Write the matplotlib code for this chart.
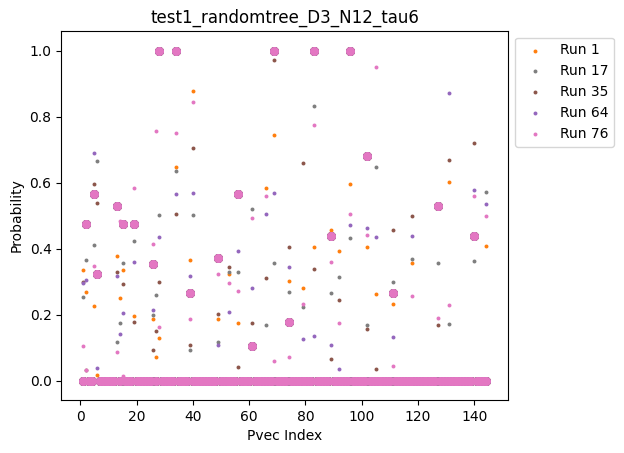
import numpy as np
import matplotlib
matplotlib.use('Agg')
from matplotlib import pyplot as plt

# pvec indices that hold something other than zero
cols = [1, 2, 5, 6, 13, 14, 15, 19, 26, 27, 28, 34, 39, 40, 49, 53, 56, 61, 66, 69,
        74, 79, 83, 89, 92, 96, 102, 105, 111, 118, 127, 131, 140, 144]

# true pvec (big markers), zero everywhere else
true_idx = [2, 5, 6, 13, 15, 19, 26, 28, 34, 39, 49, 56, 61, 69, 74, 83, 89, 96,
            102, 111, 127, 140]
true_val = [0.474, 0.566, 0.323, 0.530, 0.474, 0.476, 0.353, 1.0, 1.0, 0.265, 0.372,
            0.566, 0.105, 1.0, 0.177, 1.0, 0.4385, 1.0, 0.681, 0.265, 0.530, 0.4385]

# estimated values per run, aligned with cols
run_names = ['Run 1', 'Run 17', 'Run 35', 'Run 64', 'Run 76']
run_colors = ['C1', 'C7', 'C5', 'C4', 'C6']
run1 = [0.335, 0.268, 0.226, 0.017, 0.378, 0.250, 0.335, 0.196, 0.186, 0.071, 0.129,
        0.648, 0.366, 0.876, 0.186, 0.323, 0.175, 0.0, 0.584, 0.745, 0.302, 0.281,
        0.405, 0.457, 0.393, 0.596, 0.405, 0.262, 0.232, 0.357, 0.0, 0.6025, 0.0, 0.408]
run17 = [0.254, 0.366, 0.411, 0.666, 0.117, 0.174, 0.356, 0.423, 0.199, 0.259, 0.502,
         0.636, 0.092, 0.502, 0.117, 0.329, 0.329, 0.520, 0.168, 0.357, 0.268, 0.223,
         0.833, 0.265, 0.314, 0.432, 0.168, 0.648, 0.299, 0.369, 0.357, 0.171, 0.363, 0.572]
run35 = [0.300, 0.033, 0.596, 0.539, 0.329, 0.0, 0.293, 0.177, 0.092, 0.150, 0.299,
         0.505, 0.107, 0.706, 0.202, 0.344, 0.041, 0.175, 0.311, 0.970, 0.405, 0.660,
         0.338, 0.065, 0.244, 0.0, 0.156, 0.035, 0.457, 0.499, 0.168, 0.669, 0.721, 0.0]
run64 = [0.295, 0.305, 0.690, 0.038, 0.317, 0.141, 0.205, 0.360, 0.214, 0.0, 0.435,
         0.566, 0.317, 0.569, 0.110, 0.208, 0.393, 0.281, 0.505, 0.569, 0.344, 0.126,
         0.135, 0.1075, 0.035, 0.471, 0.463, 0.4355, 0.132, 0.4385, 0.0, 0.870, 0.578, 0.5356]
run76 = [0.104, 0.033, 0.347, 0.0, 0.086, 0.485, 0.014, 0.584, 0.414, 0.757, 0.162,
         0.751, 0.186, 0.845, 0.323, 0.296, 0.271, 0.493, 0.560, 0.059, 0.071, 0.232,
         0.776, 0.360, 0.175, 0.505, 0.4415, 0.949, 0.0437, 0.256, 0.1895, 0.229, 0.560, 0.499]
runs = [run1, run17, run35, run64, run76]

idx = np.arange(1, 145)
truth = np.zeros(idx.shape[0])
truth[np.array(true_idx)-1] = true_val

fig = plt.figure(figsize=(6.24, 4.53), dpi=100)
ax = fig.add_axes([61.3/624, 53/453, 447/624, 369.3/453])
for name, c, vals in zip(run_names, run_colors, runs):
  est = np.zeros(idx.shape[0])
  est[np.array(cols)-1] = vals
  ax.scatter(idx, truth, s=42, color=c, linewidths=0)
  ax.scatter(idx, est, s=8, color=c, linewidths=0, label=name)

ax.set_xlim(-6.75, 152.1)
ax.set_ylim(-0.058, 1.06)
ax.set_title('test1_randomtree_D3_N12_tau6')
ax.set_xlabel('Pvec Index')
ax.set_ylabel('Probability')
ax.legend(loc='upper left', bbox_to_anchor=(1.0, 1.0))
fig.savefig('out.png', dpi=100)
